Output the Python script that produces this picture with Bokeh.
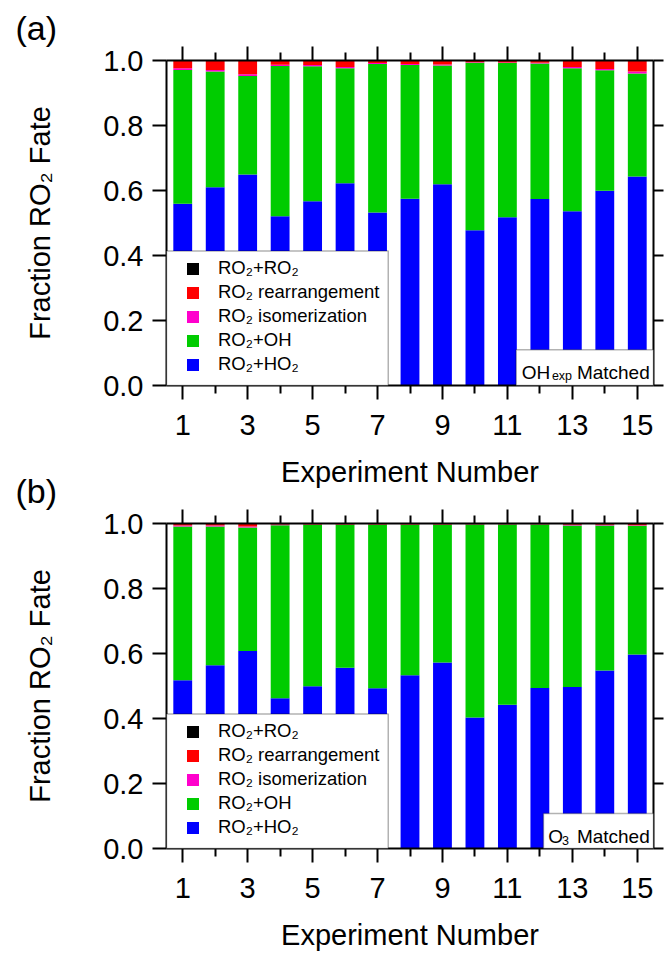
from bokeh.plotting import figure
from bokeh.models import (ColumnDataSource, FixedTicker, LinearAxis, Range1d,
                          PrintfTickFormatter, CustomJSTickFormatter, Legend,
                          LegendItem, BoxAnnotation, Label)
from bokeh.layouts import column
from bokeh.embed import file_html
from bokeh.resources import INLINE

# ---------------- data ----------------
experiments = list(range(1, 16))
x_major = [1, 3, 5, 7, 9, 11, 13, 15]
x_minor = [2, 4, 6, 8, 10, 12, 14]
y_ticks = [0.0, 0.2, 0.4, 0.6, 0.8, 1.0]

# (a) OH_exp matched
ho2_a = [0.559, 0.610, 0.649, 0.521, 0.567, 0.622, 0.532, 0.575, 0.619, 0.478, 0.518, 0.574, 0.536, 0.599, 0.643]
oh_a = [0.412, 0.356, 0.303, 0.462, 0.415, 0.354, 0.457, 0.411, 0.366, 0.515, 0.474, 0.417, 0.440, 0.371, 0.317]
iso_a = [0.005, 0.005, 0.006, 0.004, 0.004, 0.004, 0.003, 0.003, 0.003, 0.002, 0.002, 0.002, 0.004, 0.004, 0.006]
rearr_a = [0.024, 0.029, 0.042, 0.013, 0.014, 0.020, 0.008, 0.011, 0.012, 0.005, 0.006, 0.007, 0.020, 0.026, 0.034]
ro2_a = [0.0] * 15

# (b) O3 matched
ho2_b = [0.518, 0.564, 0.608, 0.462, 0.499, 0.556, 0.493, 0.533, 0.572, 0.403, 0.442, 0.494, 0.497, 0.548, 0.597]
oh_b = [0.473, 0.427, 0.380, 0.533, 0.497, 0.440, 0.503, 0.463, 0.424, 0.594, 0.555, 0.503, 0.497, 0.446, 0.396]
iso_b = [0.003, 0.003, 0.003, 0.002, 0.001, 0.001, 0.001, 0.001, 0.001, 0.001, 0.001, 0.001, 0.002, 0.002, 0.002]
rearr_b = [0.006, 0.006, 0.009, 0.003, 0.003, 0.003, 0.003, 0.003, 0.003, 0.002, 0.002, 0.002, 0.004, 0.004, 0.005]
ro2_b = [0.0] * 15

layers = ["ho2", "oh", "iso", "rearr", "ro2"]
layer_labels = ["RO₂+HO₂", "RO₂+OH", "RO₂ isomerization", "RO₂ rearrangement", "RO₂+RO₂"]
layer_colors = ["#0000FF", "#00CC00", "#FF00CC", "#FF0000", "#000000"]

FONT = "Liberation Sans"
BIG = "29px"
LEG = "18.5px"
NOTE = "19px"
SUB = "12.5px"


def style_axis(ax):
    ax.axis_line_width = 2
    ax.axis_line_color = "black"
    ax.major_tick_line_width = 2
    ax.minor_tick_line_width = 2
    ax.major_tick_line_color = "black"
    ax.minor_tick_line_color = "black"
    ax.major_tick_in = 0
    ax.major_tick_out = 14
    ax.minor_tick_in = 0
    ax.minor_tick_out = 8
    ax.major_label_text_font = FONT
    ax.major_label_text_font_size = BIG
    ax.major_label_text_color = "black"
    ax.axis_label_text_font = FONT
    ax.axis_label_text_font_size = BIG
    ax.axis_label_text_font_style = "normal"
    ax.axis_label_text_color = "black"


def make_panel(data, height, border_top, border_bottom, tag, note):
    src = ColumnDataSource(dict(x=experiments, **data))
    p = figure(width=664, height=height, x_range=Range1d(0.5, 15.5), y_range=Range1d(0.0, 1.0),
               output_backend="svg", toolbar_location=None, title=tag,
               x_axis_location=None, y_axis_location=None,
               min_border_left=166, min_border_right=11,
               min_border_top=border_top, min_border_bottom=border_bottom)
    p.outline_line_color = None
    p.grid.visible = False
    p.background_fill_color = "white"
    p.border_fill_color = None

    # panel tag "(a)" / "(b)"
    p.title.align = "left"
    p.title.offset = -151
    p.title.standoff = 0
    p.title.vertical_align = "bottom"
    p.title.text_font = FONT
    p.title.text_font_size = "34px"
    p.title.text_font_style = "normal"
    p.title.text_color = "black"

    rs = p.vbar_stack(layers, x="x", width=0.58, source=src,
                      fill_color=layer_colors, line_color=None)

    # axes
    blank = CustomJSTickFormatter(code="return ''")
    bottom = LinearAxis(ticker=FixedTicker(ticks=x_major, minor_ticks=x_minor),
                        axis_label="Experiment Number")
    style_axis(bottom)
    bottom.major_label_standoff = 15
    bottom.axis_label_standoff = 18
    p.add_layout(bottom, "below")

    top = LinearAxis(ticker=FixedTicker(ticks=x_major, minor_ticks=x_minor), formatter=blank)
    style_axis(top)
    top.major_label_standoff = 0
    top.major_label_text_font_size = "0px"
    p.add_layout(top, "above")

    left = LinearAxis(ticker=FixedTicker(ticks=y_ticks), formatter=PrintfTickFormatter(format="%.1f"),
                      axis_label="Fraction RO₂ Fate")
    style_axis(left)
    left.major_label_standoff = 9
    left.axis_label_standoff = 44
    p.add_layout(left, "left")

    right = LinearAxis(ticker=FixedTicker(ticks=y_ticks), formatter=blank)
    style_axis(right)
    right.major_tick_out = 10
    right.major_label_standoff = 0
    right.major_label_text_font_size = "0px"
    p.add_layout(right, "right")

    # legend box + legend
    p.add_layout(BoxAnnotation(left=0.5, right=7.33, bottom=0.0, top=0.414,
                               fill_color="white", fill_alpha=1.0,
                               line_color="black", line_width=1.5))
    items = [LegendItem(label=layer_labels[i], renderers=[rs[i]]) for i in [4, 3, 2, 1, 0]]
    legend = Legend(items=items, location=(19, 10), orientation="vertical",
                    border_line_color=None, background_fill_alpha=0.0,
                    padding=0, margin=0, spacing=2,
                    glyph_width=15, glyph_height=15, label_height=20,
                    label_standoff=18, label_text_font=FONT,
                    label_text_font_size=LEG, label_text_color="black",
                    label_text_baseline="middle")
    p.add_layout(legend)

    # note box
    box_left, box_top, parts = note
    p.add_layout(BoxAnnotation(left=box_left, right=15.5, bottom=0.0, top=box_top,
                               fill_color="white", fill_alpha=1.0,
                               line_color="black", line_width=1.5))
    for (tx, ty, txt, size) in parts:
        p.add_layout(Label(x=tx, y=ty, text=txt, text_font=FONT, text_font_size=size,
                           text_color="black", text_baseline="alphabetic"))
    return p


data_a = dict(ho2=ho2_a, oh=oh_a, iso=iso_a, rearr=rearr_a, ro2=ro2_a)
data_b = dict(ho2=ho2_b, oh=oh_b, iso=iso_b, rearr=rearr_b, ro2=ro2_b)

note_a = (11.27, 0.11, [(11.44, 0.041, "OH", NOTE),
                        (12.37, 0.029, "exp", SUB),
                        (13.14, 0.041, "Matched", NOTE)])
note_b = (12.11, 0.108, [(12.26, 0.036, "O", NOTE),
                         (12.68, 0.025, "3", SUB),
                         (13.14, 0.036, "Matched", NOTE)])

p1 = make_panel(data_a, 500, 60, 115, "(a)", note_a)
p2 = make_panel(data_b, 494, 64, 105, "(b)", note_b)
p2.margin = (-41, 0, 0, 0)

layout = column(p1, p2)
open("out.html", "w").write(file_html(layout, INLINE))
